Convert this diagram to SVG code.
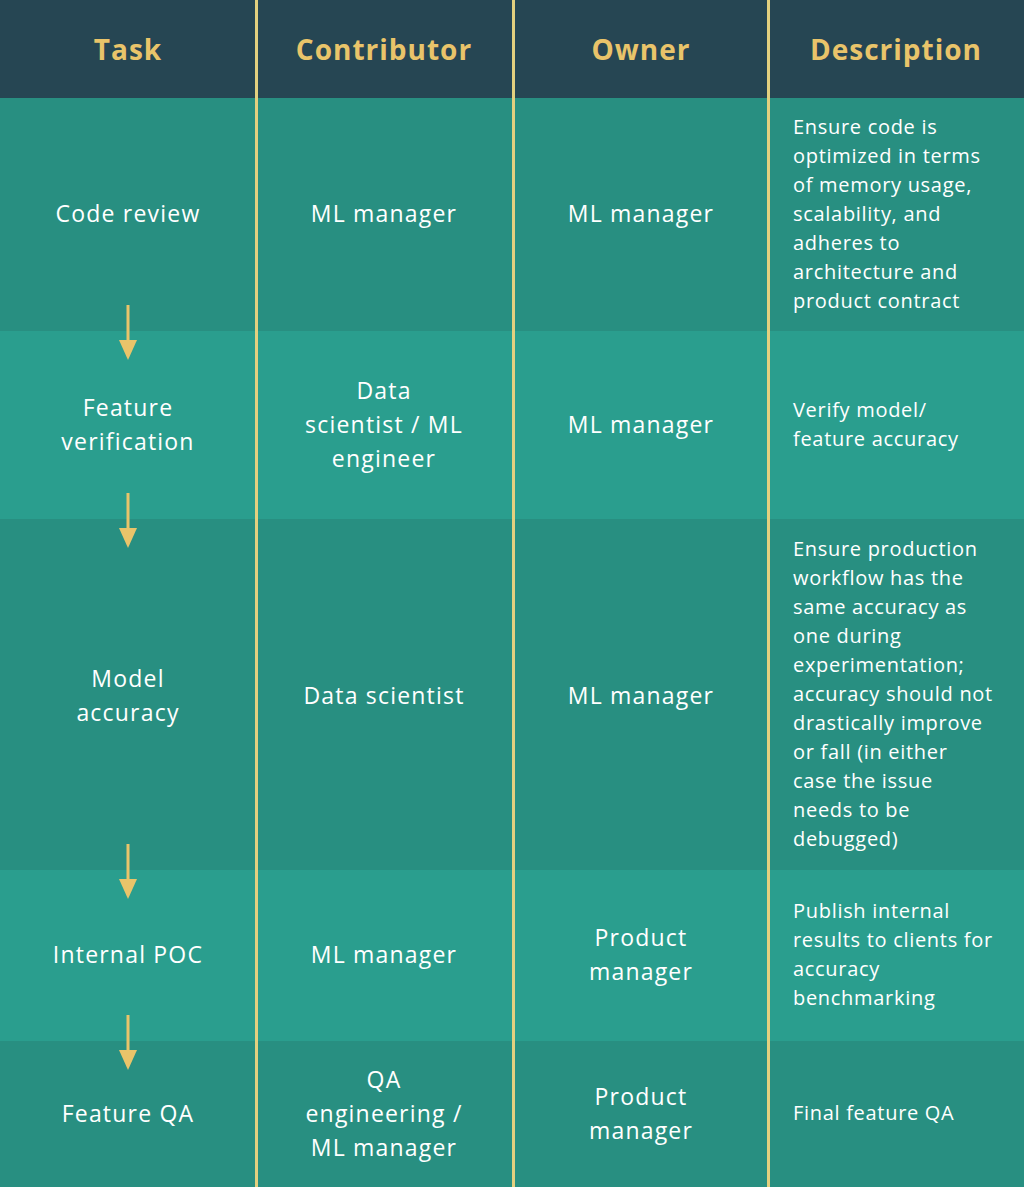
<svg xmlns="http://www.w3.org/2000/svg" width="1024" height="1187" viewBox="0 0 1024 1187">
<style>
.h{font:bold 28px "Open Sans",sans-serif;fill:#e9c46a;text-anchor:middle;letter-spacing:1px}
.c{font:23px "Open Sans",sans-serif;fill:#fff;text-anchor:middle;letter-spacing:1.2px}
.d{font:20px "Open Sans",sans-serif;fill:#fff;letter-spacing:0.7px}
.dk{fill:#288f81}.lt{fill:#2a9e8e}
.div{stroke:#e3d07f;stroke-width:3}
.ar{stroke:#e9c46a;stroke-width:3}
</style>
<rect width="1024" height="98" fill="#264653"/>
<rect y="98" width="1024" height="233" class="dk"/>
<rect y="331" width="1024" height="188" class="lt"/>
<rect y="519" width="1024" height="351" class="dk"/>
<rect y="870" width="1024" height="171" class="lt"/>
<rect y="1041" width="1024" height="146" class="dk"/>
<g id="header">
<text class="h" x="128" y="60">Task</text>
<text class="h" x="384" y="60">Contributor</text>
<text class="h" x="641" y="60">Owner</text>
<text class="h" x="896" y="60">Description</text>
</g>
<g id="row1">
<text class="c" x="128" y="222">Code review</text>
<text class="c" x="384" y="222">ML manager</text>
<text class="c" x="641" y="222">ML manager</text>
<text class="d" x="793" y="134">Ensure code is<tspan x="793" dy="29">optimized in terms</tspan><tspan x="793" dy="29">of memory usage,</tspan><tspan x="793" dy="29">scalability, and</tspan><tspan x="793" dy="29">adheres to</tspan><tspan x="793" dy="29">architecture and</tspan><tspan x="793" dy="29">product contract</tspan></text>
</g>
<g id="row2">
<text class="c" x="128" y="416">Feature<tspan x="128" dy="34">verification</tspan></text>
<text class="c" x="384" y="399">Data<tspan x="384" dy="34">scientist / ML</tspan><tspan x="384" dy="34">engineer</tspan></text>
<text class="c" x="641" y="433">ML manager</text>
<text class="d" x="793" y="417">Verify model/<tspan x="793" dy="29">feature accuracy</tspan></text>
</g>
<g id="row3">
<text class="c" x="128" y="687">Model<tspan x="128" dy="34">accuracy</tspan></text>
<text class="c" x="384" y="704">Data scientist</text>
<text class="c" x="641" y="704">ML manager</text>
<text class="d" x="793" y="556">Ensure production<tspan x="793" dy="29">workflow has the</tspan><tspan x="793" dy="29">same accuracy as</tspan><tspan x="793" dy="29">one during</tspan><tspan x="793" dy="29">experimentation;</tspan><tspan x="793" dy="29">accuracy should not</tspan><tspan x="793" dy="29">drastically improve</tspan><tspan x="793" dy="29">or fall (in either</tspan><tspan x="793" dy="29">case the issue</tspan><tspan x="793" dy="29">needs to be</tspan><tspan x="793" dy="29">debugged)</tspan></text>
</g>
<g id="row4">
<text class="c" x="128" y="963">Internal POC</text>
<text class="c" x="384" y="963">ML manager</text>
<text class="c" x="641" y="946">Product<tspan x="641" dy="34">manager</tspan></text>
<text class="d" x="793" y="918">Publish internal<tspan x="793" dy="29">results to clients for</tspan><tspan x="793" dy="29">accuracy</tspan><tspan x="793" dy="29">benchmarking</tspan></text>
</g>
<g id="row5">
<text class="c" x="128" y="1122">Feature QA</text>
<text class="c" x="384" y="1088">QA<tspan x="384" dy="34">engineering /</tspan><tspan x="384" dy="34">ML manager</tspan></text>
<text class="c" x="641" y="1105">Product<tspan x="641" dy="34">manager</tspan></text>
<text class="d" x="793" y="1120">Final feature QA</text>
</g>
<g id="dividers">
<line class="div" x1="256.5" y1="0" x2="256.5" y2="1187"/>
<line class="div" x1="513.5" y1="0" x2="513.5" y2="1187"/>
<line class="div" x1="768.5" y1="0" x2="768.5" y2="1187"/>
</g>
<g id="connectors" fill="#e9c46a">
<line class="ar" x1="128" y1="305" x2="128" y2="344"/><path d="M119,340H137L128,360Z"/>
<line class="ar" x1="128" y1="493" x2="128" y2="532"/><path d="M119,528H137L128,548Z"/>
<line class="ar" x1="128" y1="844" x2="128" y2="883"/><path d="M119,879H137L128,899Z"/>
<line class="ar" x1="128" y1="1015" x2="128" y2="1054"/><path d="M119,1050H137L128,1070Z"/>
</g>
</svg>
